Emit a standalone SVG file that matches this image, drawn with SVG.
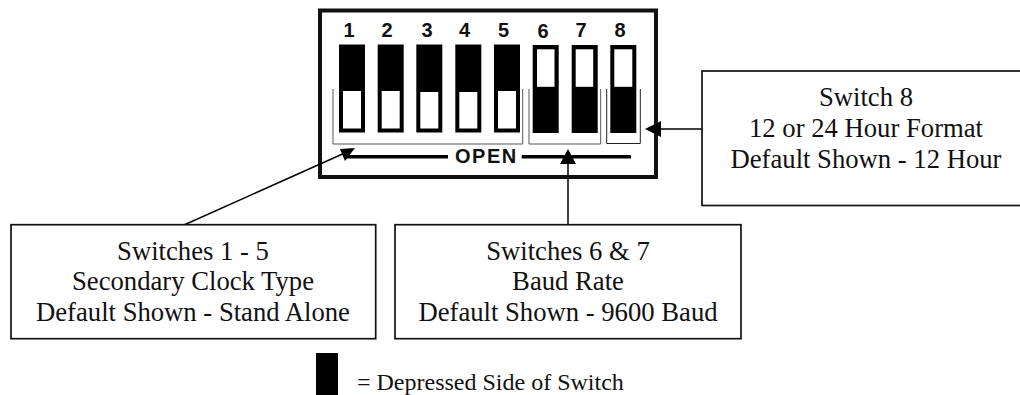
<svg xmlns="http://www.w3.org/2000/svg" width="1020" height="395" viewBox="0 0 1020 395">
<style>
.box{fill:#fff;stroke:#111;stroke-width:1.7}
.t{font-family:"Liberation Serif","Times New Roman",serif;font-size:26.670px;fill:#111;text-anchor:middle}
.n{font-family:"Liberation Sans",Arial,sans-serif;font-size:20px;font-weight:bold;fill:#111;text-anchor:middle}
.w{fill:#fff}
.b{fill:none;stroke:#555;stroke-width:1}
.c{fill:none;stroke:#000}
</style>
<rect width="1020" height="395" fill="#fff"/>
<g id="dip-switch">
<rect x="320" y="10.500" width="336" height="166.500" fill="#fff" stroke="#111" stroke-width="4"/>
<g id="sw1"><rect x="339" y="44.500" width="26" height="88"/><rect class="w" x="343" y="91" width="18" height="37.500"/><text class="n" x="349" y="37">1</text></g>
<g id="sw2"><rect x="377.700" y="44.500" width="26" height="88"/><rect class="w" x="381.700" y="91" width="18" height="37.500"/><text class="n" x="387" y="37">2</text></g>
<g id="sw3"><rect x="416.300" y="44.500" width="26" height="88"/><rect class="w" x="420.300" y="92" width="18" height="36.500"/><text class="n" x="427" y="37">3</text></g>
<g id="sw4"><rect x="455.300" y="44.500" width="26" height="88"/><rect class="w" x="459.300" y="92" width="18" height="36.500"/><text class="n" x="464.500" y="37">4</text></g>
<g id="sw5"><rect x="494" y="44.500" width="26" height="88"/><rect class="w" x="498" y="91" width="18" height="37.500"/><text class="n" x="503.500" y="37">5</text></g>
<g id="sw6"><rect x="532.700" y="45" width="26" height="88"/><rect class="w" x="537" y="49.300" width="17.500" height="37.500"/><text class="n" x="543" y="38">6</text></g>
<g id="sw7"><rect x="571.700" y="45" width="26" height="88"/><rect class="w" x="575.700" y="49.300" width="17.500" height="37.500"/><text class="n" x="581" y="37">7</text></g>
<g id="sw8"><rect x="610.300" y="45" width="26" height="88"/><rect class="w" x="614.300" y="49.300" width="18" height="37.500"/><text class="n" x="620" y="37">8</text></g>
<path class="b" d="M333 89V144H522.700V89"/>
<path class="b" d="M529 89V144H600.700V89"/>
<path class="b" style="stroke:#222" d="M606.700 89V143.500H640.300V89"/>
<text id="open" x="455" y="163.300" font-family="'Liberation Sans',Arial,sans-serif" font-size="20" font-weight="bold" letter-spacing="1.500" fill="#111">OPEN</text>
</g>
<g id="connectors">
<path class="c" stroke-width="3.500" d="M345 156.700H448M521.700 156.700H631"/>
<path class="c" stroke-width="1.500" d="M184 225L347 152"/>
<polygon points="355,148 340,149 345,161"/>
<path class="c" stroke-width="1.500" d="M568 225V160"/>
<polygon points="568,149 560,164 576,164"/>
<path class="c" stroke-width="1.500" d="M702 129H658"/>
<polygon points="645,129 661,121 661,137"/>
</g>
<g id="box-switch-8">
<rect class="box" x="702" y="71" width="322" height="134.500"/>
<text class="t" x="866" y="105.500">Switch 8</text>
<text class="t" x="866" y="136.500">12 or 24 Hour Format</text>
<text class="t" x="866" y="167.500">Default Shown - 12 Hour</text>
</g>
<g id="box-switches-1-5">
<rect class="box" x="11" y="224.700" width="364.700" height="114"/>
<text class="t" x="193" y="260">Switches 1 - 5</text>
<text class="t" x="193" y="290">Secondary Clock Type</text>
<text class="t" x="193" y="320.500">Default Shown - Stand Alone</text>
</g>
<g id="box-switches-6-7">
<rect class="box" x="395" y="224.700" width="346" height="114"/>
<text class="t" x="568" y="260">Switches 6 &amp; 7</text>
<text class="t" x="568" y="290">Baud Rate</text>
<text class="t" x="568" y="320.500">Default Shown - 9600 Baud</text>
</g>
<g id="legend">
<rect x="316" y="353" width="22" height="42"/>
<text class="t" x="357" y="389.500" style="text-anchor:start;font-size:24px">= Depressed Side of Switch</text>
</g>
</svg>
